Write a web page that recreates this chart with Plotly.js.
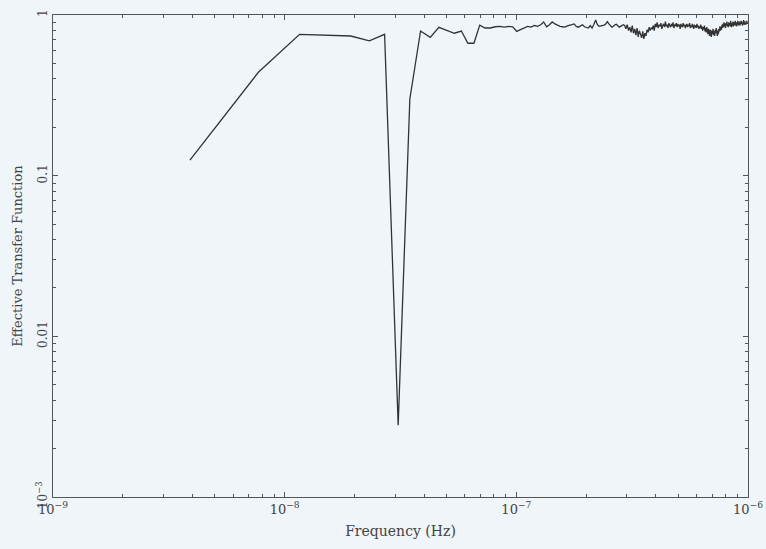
<!DOCTYPE html>
<html>
<head>
<meta charset="utf-8">
<script src="https://cdn.plot.ly/plotly-3.0.1.min.js"></script>
<style>
html,body{margin:0;padding:0;background:#eff5f9;}
#chart{width:766px;height:549px;}
</style>
</head>
<body>
<div id="chart"></div>
<script>
// Frequencies in nHz (harmonics of the base frequency)
const freqNHz = [
3.9,7.7,11.6,15.4,19.3,23.2,27.0,30.9,34.7,38.6,
42.5,46.3,50.2,54.0,57.9,61.8,65.6,69.5,73.3,77.2,
81.1,84.9,88.8,92.6,96.5,100.4,104.2,108.1,111.9,115.8,
119.7,123.5,127.4,131.2,135.1,139.0,142.8,146.7,150.5,154.4,
158.3,162.1,166.0,169.8,173.7,177.6,181.4,185.3,189.1,193.0,
196.9,200.7,204.6,208.4,212.3,216.2,220.0,223.9,227.7,231.6,
235.5,239.3,243.2,247.0,250.9,254.8,258.6,262.5,266.3,270.2,
274.1,277.9,281.8,285.6,289.5,293.4,297.2,301.1,304.9,308.8,
312.7,316.5,320.4,324.2,328.1,332.0,335.8,339.7,343.5,347.4,
351.3,355.1,359.0,362.8,366.7,370.6,374.4,378.3,382.1,386.0,
389.9,393.7,397.6,401.4,405.3,409.2,413.0,416.9,420.7,424.6,
428.5,432.3,436.2,440.0,443.9,447.8,451.6,455.5,459.3,463.2,
467.1,470.9,474.8,478.6,482.5,486.4,490.2,494.1,497.9,501.8,
505.7,509.5,513.4,517.2,521.1,525.0,528.8,532.7,536.5,540.4,
544.3,548.1,552.0,555.8,559.7,563.6,567.4,571.3,575.1,579.0,
582.9,586.7,590.6,594.4,598.3,602.2,606.0,609.9,613.7,617.6,
621.5,625.3,629.2,633.0,636.9,640.8,644.6,648.5,652.3,656.2,
660.1,663.9,667.8,671.6,675.5,679.4,683.2,687.1,690.9,694.8,
698.7,702.5,706.4,710.2,714.1,718.0,721.8,725.7,729.5,733.4,
737.3,741.1,745.0,748.8,752.7,756.6,760.4,764.3,768.1,772.0,
775.9,779.7,783.6,787.4,791.3,795.2,799.0,802.9,806.7,810.6,
814.5,818.3,822.2,826.0,829.9,833.8,837.6,841.5,845.3,849.2,
853.1,856.9,860.8,864.6,868.5,872.4,876.2,880.1,883.9,887.8,
891.7,895.5,899.4,903.2,907.1,911.0,914.8,918.7,922.5,926.4,
930.3,934.1,938.0,941.8,945.7,949.6,953.4,957.3,961.1,965.0,
968.9,972.7,976.6,980.4,984.3,988.2,992.0,995.9,999.7
];

// Effective transfer function values
const transfer = [
0.125,0.44,0.758,0.75,0.74,0.69,0.758,0.0028,0.30,0.795,
0.726,0.838,0.80,0.77,0.795,0.667,0.667,0.865,0.83,0.83,
0.845,0.85,0.84,0.85,0.845,0.79,0.81,0.83,0.85,0.84,
0.86,0.85,0.87,0.905,0.845,0.87,0.905,0.88,0.86,0.85,
0.845,0.84,0.855,0.86,0.87,0.88,0.85,0.84,0.86,0.87,
0.845,0.84,0.83,0.86,0.83,0.875,0.93,0.87,0.85,0.855,
0.86,0.865,0.88,0.91,0.88,0.86,0.84,0.85,0.87,0.875,
0.86,0.84,0.85,0.86,0.87,0.86,0.82,0.87,0.80,0.84,
0.78,0.86,0.77,0.82,0.75,0.83,0.73,0.80,0.76,0.72,
0.79,0.71,0.77,0.74,0.81,0.78,0.84,0.80,0.83,0.82,
0.86,0.80,0.88,0.84,0.90,0.83,0.87,0.85,0.89,0.82,
0.86,0.88,0.84,0.91,0.85,0.87,0.83,0.89,0.86,0.84,
0.88,0.85,0.90,0.83,0.87,0.86,0.89,0.84,0.88,0.85,
0.87,0.82,0.88,0.86,0.84,0.89,0.85,0.87,0.83,0.86,
0.88,0.84,0.87,0.85,0.89,0.83,0.86,0.84,0.88,0.85,
0.82,0.87,0.84,0.86,0.83,0.88,0.84,0.86,0.82,0.85,
0.83,0.87,0.82,0.85,0.80,0.84,0.81,0.86,0.79,0.83,
0.78,0.84,0.80,0.76,0.82,0.78,0.74,0.81,0.77,0.73,
0.80,0.76,0.82,0.75,0.79,0.74,0.81,0.77,0.83,0.78,
0.74,0.80,0.76,0.82,0.79,0.85,0.80,0.84,0.81,0.87,
0.83,0.88,0.84,0.90,0.85,0.88,0.83,0.89,0.86,0.91,
0.85,0.88,0.84,0.90,0.86,0.89,0.85,0.92,0.87,0.84,
0.89,0.86,0.91,0.85,0.88,0.90,0.86,0.92,0.87,0.89,
0.85,0.90,0.87,0.92,0.86,0.89,0.88,0.91,0.86,0.90,
0.87,0.92,0.88,0.90,0.86,0.91,0.88,0.93,0.87,0.90,
0.88,0.91,0.87,0.90,0.89,0.92,0.88,0.90,0.89
];

const xTickVals = [1e-9, 1e-8, 1e-7, 1e-6];
const xTickText = ['10<sup>\u22129</sup>', '10<sup>\u22128</sup>', '10<sup>\u22127</sup>', '10<sup>\u22126</sup>'];
const yTickVals = [0.001, 0.01, 0.1, 1];
const yTickText = ['10<sup>\u22123</sup>', '0.01', '0.1', '1'];

const FONT = '"DejaVu Serif", "Liberation Serif", serif';
const AX = '#555555';
const TXT = '#444444';

const trace = {
  x: freqNHz.map(v => v * 1e-9),
  y: transfer,
  type: 'scatter',
  mode: 'lines',
  line: {color: '#333333', width: 1.3},
  hoverinfo: 'skip'
};

const layout = {
  width: 766, height: 549,
  margin: {l: 53, r: 18, t: 15, b: 52},
  paper_bgcolor: '#eff5f9',
  plot_bgcolor: '#eff5f9',
  font: {family: FONT, size: 12, color: TXT},
  showlegend: false,
  xaxis: {
    type: 'log',
    range: [-9, -6],
    showgrid: false, zeroline: false,
    showline: true, linecolor: AX, linewidth: 1, mirror: 'allticks',
    ticks: 'inside', ticklen: 5, tickcolor: AX,
    tickvals: xTickVals, ticktext: xTickText,
    tickfont: {family: FONT, size: 13, color: TXT},
    minor: {ticks: 'inside', ticklen: 3, tickcolor: AX, dtick: 'D1', showgrid: false},
    title: {text: 'Frequency (Hz)', font: {family: FONT, size: 14, color: TXT}, standoff: 10}
  },
  yaxis: {
    type: 'log',
    range: [-3, 0],
    showgrid: false, zeroline: false,
    showline: true, linecolor: AX, linewidth: 1, mirror: 'allticks',
    ticks: 'inside', ticklen: 5, tickcolor: AX,
    tickvals: yTickVals, ticktext: yTickText, tickangle: -90,
    tickfont: {family: FONT, size: 12, color: TXT},
    minor: {ticks: 'inside', ticklen: 3, tickcolor: AX, dtick: 'D1', showgrid: false},
    title: {text: 'Effective Transfer Function', font: {family: FONT, size: 13, color: TXT}, standoff: 8}
  }
};

Plotly.newPlot('chart', [trace], layout, {displayModeBar: false, staticPlot: true});
</script>
</body>
</html>
